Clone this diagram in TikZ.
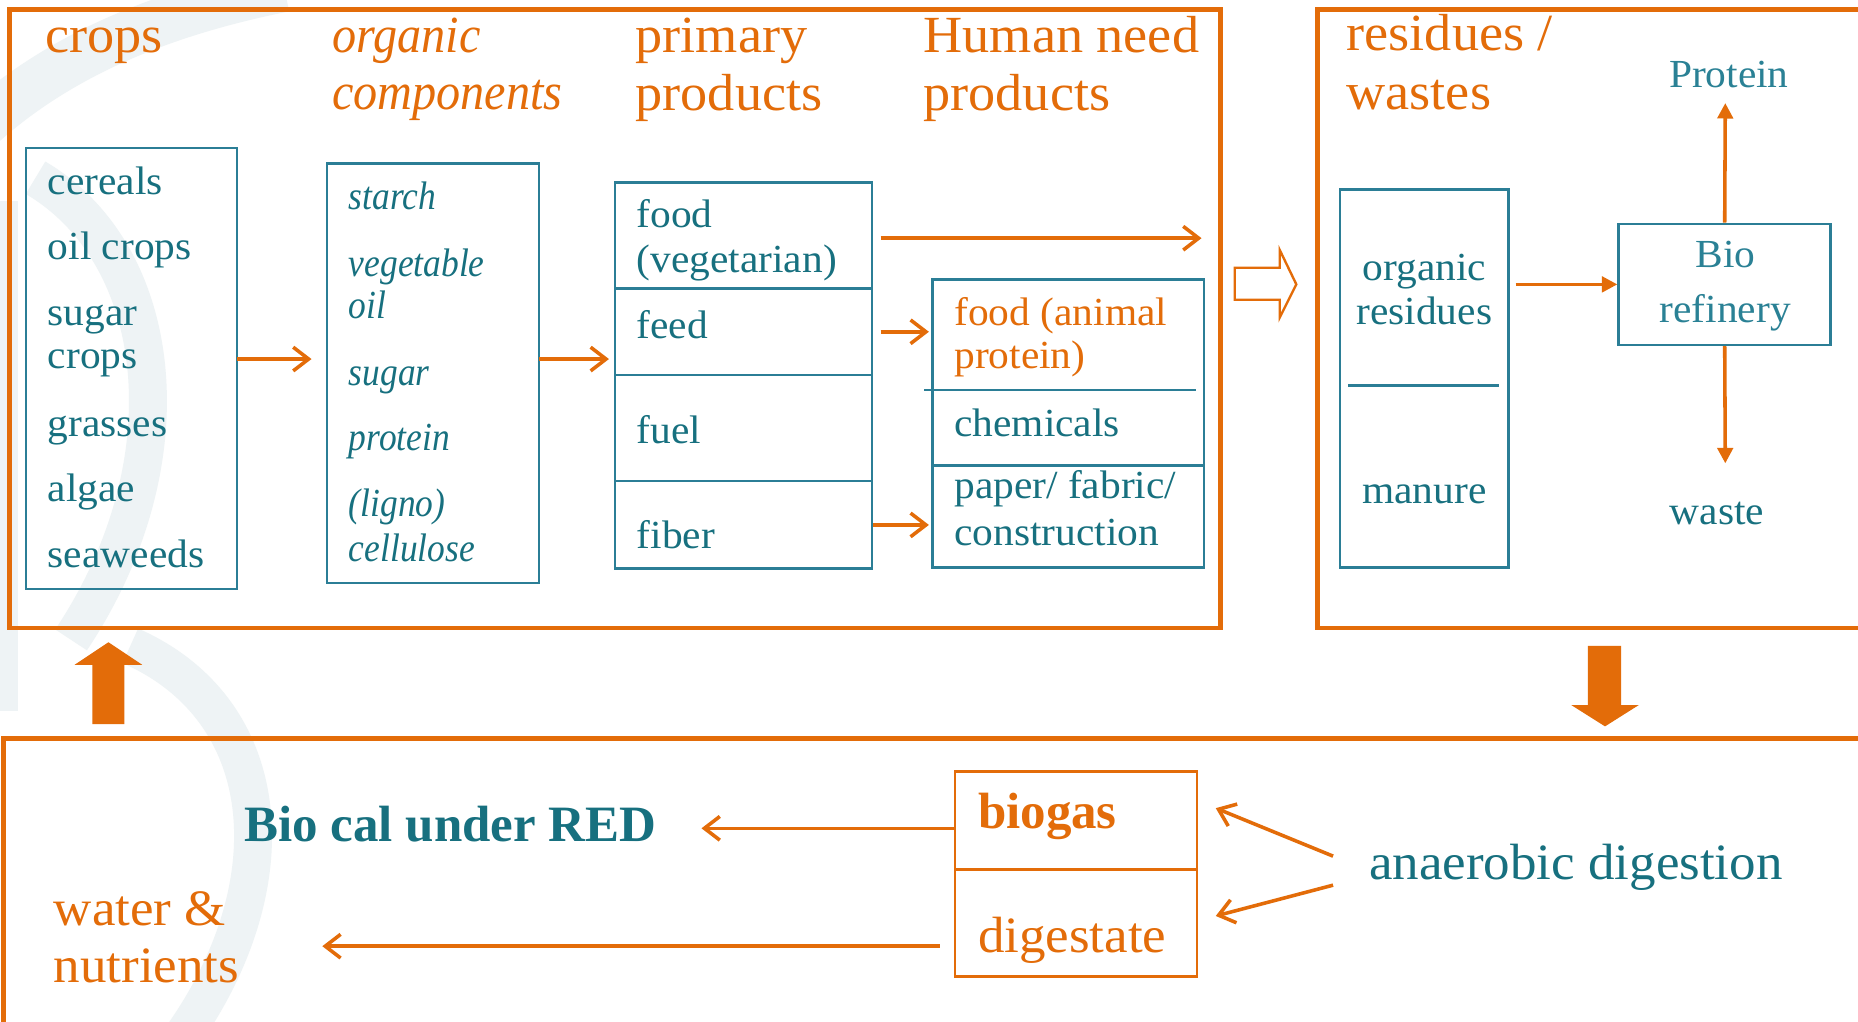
\documentclass[tikz,border=0pt]{standalone}
\usepackage{fontspec}
\setmainfont{Liberation Serif}[FakeStretch=1.04]
\newfontfamily\bitf{Liberation Serif}[FakeStretch=0.89]
\newfontfamily\hitf{Liberation Serif}[FakeStretch=0.925]
\newfontfamily\bff{Liberation Serif}[FakeStretch=1.0]
\usetikzlibrary{arrows.meta}
\definecolor{orng}{HTML}{E36C09}
\definecolor{tealt}{HTML}{17707F}
\definecolor{teall}{HTML}{2B7E96}
\definecolor{tealb}{HTML}{2A8195}
\definecolor{wm}{HTML}{EEF3F5}
\newcommand\hdrf{\fontsize{22}{24.5}\selectfont}
\newcommand\bodyf{\fontsize{16.8}{18}\selectfont}
\newcommand\bigf{\fontsize{21.5}{24}\selectfont}
\tikzset{
  hdr/.style={anchor=base west, inner sep=0pt, font=\hdrf, text=orng},
  itm/.style={anchor=base west, inner sep=0pt, font=\bodyf, text=tealt},
  iti/.style={anchor=base west, inner sep=0pt, font=\bodyf\bitf\itshape, text=tealt},
  itc/.style={anchor=base, inner sep=0pt, font=\bodyf, text=tealt},
  big/.style={anchor=base west, inner sep=0pt, font=\bigf},
  tbox/.style={draw=teall, line width=1.1pt, inner sep=0pt},
  obox/.style={draw=orng, line width=1.1pt, inner sep=0pt},
  oframe/.style={draw=orng, line width=2pt},
  oarr/.style={draw=orng, line width=1.5pt, -{Straight Barb[length=6.5pt,width=10pt,line width=1.5pt]}},
  tarr/.style={draw=orng, line width=1.5pt, -{Triangle[length=6.5pt,width=6.5pt]}},
  wmk/.style={draw=wm},
}
\begin{document}
\begin{tikzpicture}[x=0.5pt,y=-0.5pt]
\useasboundingbox (0,0) rectangle (1568,862);
\clip (0,0) rectangle (1568,862);
\fill[white] (0,0) rectangle (1568,862);

% faint watermark swirl
\draw[wmk, line width=20pt] (-20,110) .. controls (50,45) and (140,10) .. (240,-10);
\draw[wmk, line width=16pt] (30,150) .. controls (140,215) and (160,390) .. (60,540);
\draw[wmk, line width=10pt] (5,170) -- (5,600);
\draw[wmk, line width=16pt] (110,545) .. controls (235,600) and (245,750) .. (150,880);

% frames
\draw[oframe] (8,8) rectangle (1030,530);
\draw[oframe] (1112,8) rectangle (1600,530);
\draw[oframe] (3,623) rectangle (1600,900);

% headers
\node[hdr] (h1) at (38,44) {crops};
\node[hdr, font=\hdrf\hitf\itshape] (h2a) at (280,44) {organic};
\node[hdr, font=\hdrf\hitf\itshape] (h2b) at (280,92) {components};
\node[hdr] (h3a) at (536,44) {primary};
\node[hdr] (h3b) at (536,93) {products};
\node[hdr] (h4a) at (779,44) {Human need};
\node[hdr] (h4b) at (779,93) {products};
\node[hdr] (h5a) at (1136,43) {residues /};
\node[hdr] (h5b) at (1136,92) {wastes};

% boxes
\node[tbox, minimum width=89pt, minimum height=186pt] (cropsbox) at (111,311) {};
\node[tbox, minimum width=89.5pt, minimum height=177pt] (orgbox) at (365.5,315) {};
\node[tbox, minimum width=108.5pt, minimum height=44.75pt] (foodcell) at (627.5,198.75) {};
\node[tbox, minimum width=108.5pt, minimum height=36.5pt] (feedcell) at (627.5,280) {};
\node[tbox, minimum width=108.5pt, minimum height=44.75pt] (fuelcell) at (627.5,361.25) {};
\node[tbox, minimum width=108.5pt, minimum height=37pt] (fibercell) at (627.5,443) {};
\node[tbox, minimum width=114.5pt, minimum height=121.5pt] (humanbox) at (901.5,357.5) {};
\draw[teall, line width=1.1pt] (780,329) -- (1009,329);
\draw[teall, line width=1.1pt] (787,393) -- (1016,393);
\node[tbox, minimum width=71pt, minimum height=159.5pt] (resbox) at (1202,319.5) {};
\draw[teall, line width=1.1pt] (1138,325.5) -- (1265,325.5);
\node[tbox, minimum width=89.5pt, minimum height=51pt] (refbox) at (1455.5,240) {};
\node[obox, minimum width=102pt, minimum height=41.5pt] (biogasbox) at (908,692.5) {};
\node[obox, minimum width=102pt, minimum height=45pt] (digbox) at (908,779) {};

% crops items
\node[itm] (c1) at (40,164) {cereals};
\node[itm] (c2) at (40,219) {oil crops};
\node[itm] (c3) at (40,275) {sugar};
\node[itm] (c4) at (40,311) {crops};
\node[itm] (c5) at (40,368) {grasses};
\node[itm] (c6) at (40,423) {algae};
\node[itm] (c7) at (40,479) {seaweeds};

% organic items
\node[iti] (o1) at (294,177) {starch};
\node[iti] (o2) at (294,233) {vegetable};
\node[iti] (o3) at (294,269) {oil};
\node[iti] (o4) at (294,325) {sugar};
\node[iti] (o5) at (294,380) {protein};
\node[iti] (o6) at (294,436) {(ligno)};
\node[iti] (o7) at (294,474) {cellulose};

% primary items
\node[itm] (p1) at (537,192) {food};
\node[itm] (p2) at (537,230) {(vegetarian)};
\node[itm] (p3) at (537,285.5) {feed};
\node[itm] (p4) at (537,374) {fuel};
\node[itm] (p5) at (537,462.5) {fiber};

% human need items
\node[itm, text=orng] (n1) at (805,275) {food (animal};
\node[itm, text=orng] (n2) at (805,311) {protein)};
\node[itm] (n3) at (805,368) {chemicals};
\node[itm] (n4) at (805,421) {paper/ fabric/};
\node[itm] (n5) at (805,460) {construction};

% residues
\node[itc] (r1) at (1202,237) {organic};
\node[itc] (r2) at (1202,274) {residues};
\node[itc] (r3) at (1202,425) {manure};
\node[itc, text=tealb] (b1) at (1456,226) {Bio};
\node[itc, text=tealb] (b2) at (1456,272) {refinery};
\node[itc, text=tealb] (prot) at (1459,73.5) {Protein};
\node[itc] (wst) at (1449,442.5) {waste};

% bottom texts
\node[big, text=orng, font=\bigf\bff\bfseries] (bg) at (825,699) {biogas};
\node[big, text=orng] (dg) at (825,804) {digestate};
\node[inner sep=0pt, anchor=base, font=\bigf\bff\bfseries, text=tealt] (red) at (380,710) {Bio cal under RED};
\node[big, text=orng] (w1) at (45,781) {water \&};
\node[big, text=orng] (w2) at (45,829) {nutrients};
\node[big, text=tealt] (ad) at (1155,742) {anaerobic digestion};

% thin arrows
\coordinate (a1s) at (200,303);
\draw[oarr, shorten >=6pt] (a1s) -- (a1s -| orgbox.west);
\coordinate (a2s) at (455,303);
\draw[oarr, shorten >=2pt] (a2s) -- (a2s -| foodcell.west);
\coordinate (vegend) at (1014,201);
\draw[oarr, shorten <=3pt] (foodcell.east |- vegend) -- (vegend);
\draw[oarr, shorten <=3pt, shorten >=1pt] (feedcell.east) -- (feedcell.east -| humanbox.west);
\draw[oarr, shorten >=1pt] (fibercell.east) -- (fibercell.east -| humanbox.west);

\draw[tarr, shorten <=2.5pt] (resbox.east |- refbox.west) -- (refbox.west);
\coordinate (protip) at (1456,87);
\coordinate (wastetip) at (1456,391);
\draw[tarr] (refbox.north) -- (protip);
\draw[tarr] (refbox.south) -- (wastetip);

\coordinate (bgs) at (806,699);
\coordinate (bge) at (592,699);
\draw[oarr] (bgs) -- (bge);
\coordinate (dgs) at (793,798.5);
\coordinate (dge) at (272,798.5);
\draw[oarr] (dgs) -- (dge);
\coordinate (ad1) at (1125,722.5);
\coordinate (ad1e) at (1026,682);
\coordinate (ad2) at (1125,747);
\coordinate (ad2e) at (1026,773);
\draw[oarr] (ad1) -- (ad1e);
\draw[oarr] (ad2) -- (ad2e);

% block arrows
\fill[orng] (78,611) -- (78,561) -- (63,561) -- (91.5,542) -- (120,561) -- (105,561) -- (105,611) -- cycle;
\fill[orng] (1340,545) -- (1340,595) -- (1326,595) -- (1354.5,613) -- (1383,595) -- (1368,595) -- (1368,545) -- cycle;
\draw[orng, line width=1pt] (1042,226) -- (1080,226) -- (1080,211) -- (1094,240) -- (1080,268) -- (1080,253) -- (1042,253) -- cycle;
\end{tikzpicture}
\end{document}
